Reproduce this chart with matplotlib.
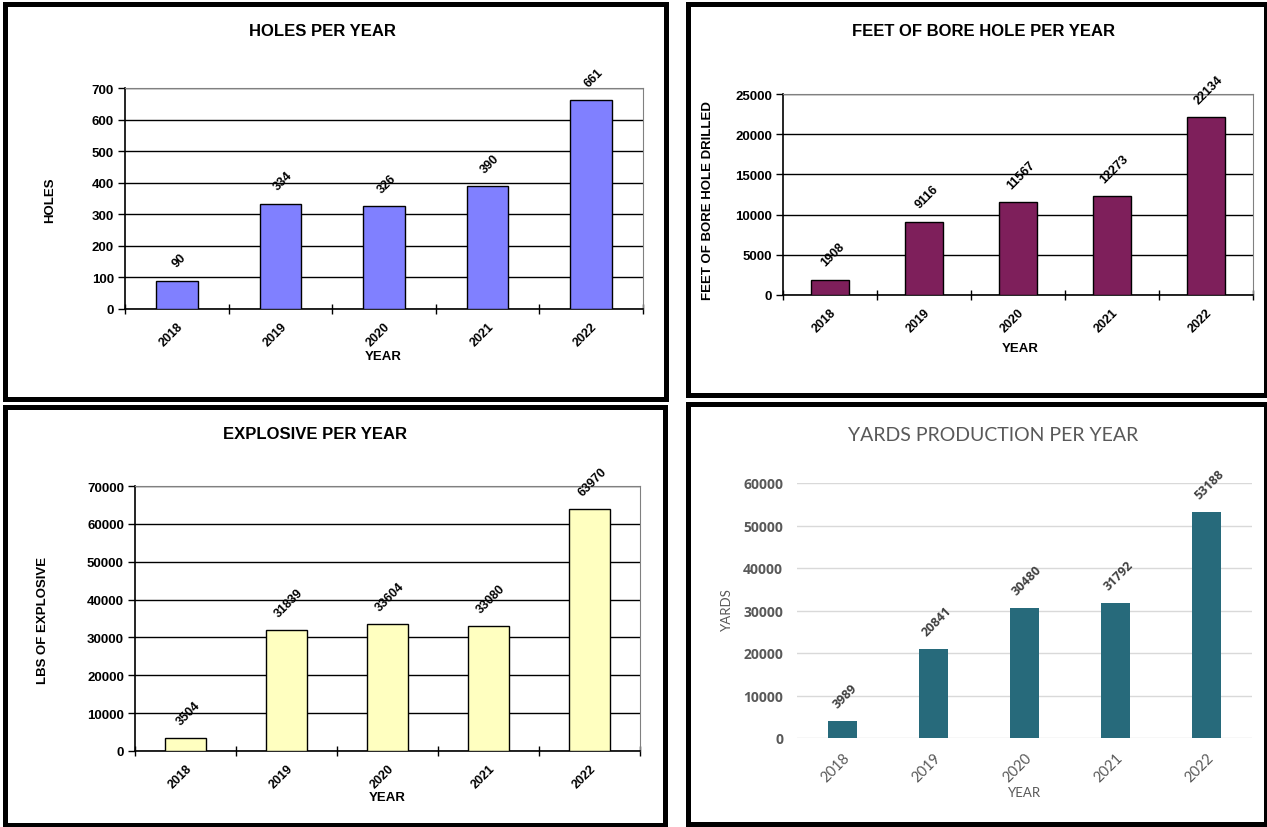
import matplotlib
matplotlib.use("Agg")
import matplotlib.pyplot as plt
from matplotlib.patches import Rectangle

W, H = 1267, 828

years = ["2018", "2019", "2020", "2021", "2022"]
holes = [90, 334, 326, 390, 661]
bore_feet = [1908, 9116, 11567, 12273, 22134]
explosive_lbs = [3504, 31839, 33604, 33080, 63970]
yards = [3989, 20841, 30480, 31792, 53188]

plt.rcParams["font.family"] = ["Liberation Sans", "DejaVu Sans"]

fig = plt.figure(figsize=(W / 100, H / 100), dpi=100)


def px_axes(left, top, right, bottom):
    return fig.add_axes([left / W, 1 - bottom / H, (right - left) / W, (bottom - top) / H])


def px_text(x, y, s, **kw):
    fig.text(x / W, 1 - y / H, s, **kw)


def frame(left, top, right, bottom):
    fig.patches.append(Rectangle((left / W, 1 - bottom / H), (right - left) / W,
                                 (bottom - top) / H, transform=fig.transFigure,
                                 fill=False, edgecolor="black", linewidth=3.6))


def old_excel_bars(ax, values, color, ymax, ystep):
    x = [i + 0.5 for i in range(len(values))]
    ax.bar(x, values, width=0.4, color=color, edgecolor="black", linewidth=1.0, zorder=3)
    ax.set_xlim(0, len(values))
    ax.set_ylim(0, ymax)
    ax.set_yticks(range(0, ymax + 1, ystep))
    ax.yaxis.grid(True, color="black", linewidth=1.0, zorder=0)
    ax.set_axisbelow(True)
    # category boundaries as tick marks, labels at the centers
    ax.set_xticks(range(len(values) + 1))
    ax.set_xticklabels([])
    ax.set_xticks(x, minor=True)
    ax.set_xticklabels(years, minor=True, rotation=45, ha="right", va="top",
                       rotation_mode="anchor", fontsize=9, fontweight="bold")
    ax.tick_params(axis="x", which="major", length=7, width=1, direction="inout")
    ax.tick_params(axis="x", which="minor", length=0, pad=8)
    ax.tick_params(axis="y", length=5, width=1, labelsize=9.5, pad=3)
    for lab in ax.get_yticklabels():
        lab.set_fontweight("bold")
    for s in ["top", "right"]:
        ax.spines[s].set_color("#808080")
    for s in ["left", "bottom"]:
        ax.spines[s].set_color("black")
        ax.spines[s].set_linewidth(1.2)
    for xi, v in zip(x, values):
        ax.annotate(str(v), (xi, v), xytext=(2, 8), textcoords="offset points",
                    rotation=45, ha="center", va="bottom", fontsize=9, fontweight="bold")


# --- HOLES PER YEAR ---
frame(5, 5, 666, 400)
ax1 = px_axes(125, 89, 643, 310)
old_excel_bars(ax1, holes, "#8080FF", 700, 100)
px_text(322, 32, "HOLES PER YEAR", ha="center", va="center", fontsize=12, fontweight="bold")
px_text(50, 200, "HOLES", ha="center", va="center", rotation=90, fontsize=9.5, fontweight="bold")
px_text(383, 357, "YEAR", ha="center", va="center", fontsize=9.5, fontweight="bold")

# --- FEET OF BORE HOLE PER YEAR ---
frame(688, 5, 1266, 396)
ax2 = px_axes(783, 95, 1253, 296)
old_excel_bars(ax2, bore_feet, "#7E1F5B", 25000, 5000)
px_text(983, 32, "FEET OF BORE HOLE PER YEAR", ha="center", va="center", fontsize=12, fontweight="bold")
px_text(708, 201, "FEET OF BORE HOLE DRILLED", ha="center", va="center", rotation=90,
        fontsize=9.5, fontweight="bold")
px_text(1020, 349, "YEAR", ha="center", va="center", fontsize=9.5, fontweight="bold")

# --- EXPLOSIVE PER YEAR ---
frame(5, 408, 665, 826)
ax3 = px_axes(135, 487, 640, 752)
old_excel_bars(ax3, explosive_lbs, "#FFFFC0", 70000, 10000)
px_text(315, 435, "EXPLOSIVE PER YEAR", ha="center", va="center", fontsize=12, fontweight="bold")
px_text(43, 620, "LBS OF EXPLOSIVE", ha="center", va="center", rotation=90,
        fontsize=9.5, fontweight="bold")
px_text(387, 798, "YEAR", ha="center", va="center", fontsize=9.5, fontweight="bold")

# --- YARDS PRODUCTION PER YEAR (newer Excel style) ---
frame(688, 405, 1266, 825)
ax4 = px_axes(797, 484, 1252, 739)
gray = "#595959"
light = ["Lato", "DejaVu Sans"]
heavy = ["Open Sans", "DejaVu Sans"]
x4 = [i + 0.5 for i in range(len(yards))]
ax4.bar(x4, yards, width=0.31, color="#276A7B", zorder=3)
ax4.set_xlim(0, len(yards))
ax4.set_ylim(0, 60000)
ax4.set_yticks(range(0, 60001, 10000))
ax4.yaxis.grid(True, color="#D9D9D9", linewidth=1.0, zorder=0)
ax4.set_axisbelow(True)
for s in ax4.spines.values():
    s.set_visible(False)
ax4.set_xticks(x4)
ax4.set_xticklabels(years, rotation=45, ha="right", va="top", rotation_mode="anchor",
                    fontsize=10.5, color=gray, family=light)
ax4.tick_params(axis="both", length=0)
ax4.tick_params(axis="x", pad=9)
ax4.tick_params(axis="y", pad=10)
for lab in ax4.get_yticklabels():
    lab.set_family(heavy)
    lab.set_fontweight("bold")
    lab.set_color(gray)
    lab.set_fontsize(10)
for xi, v in zip(x4, yards):
    ax4.annotate(str(v), (xi, v), xytext=(2, 8), textcoords="offset points",
                 rotation=45, ha="center", va="bottom", fontsize=9, fontweight="bold",
                 color="#404040", family=heavy)
px_text(993, 436, "YARDS PRODUCTION PER YEAR", ha="center", va="center", fontsize=14,
        color=gray, family=light)
px_text(727, 610, "YARDS", ha="center", va="center", rotation=90, fontsize=9.5,
        color=gray, family=light)
px_text(1025, 793, "YEAR", ha="center", va="center", fontsize=9.5,
        color=gray, family=light)

fig.savefig("out.png", dpi=100)
